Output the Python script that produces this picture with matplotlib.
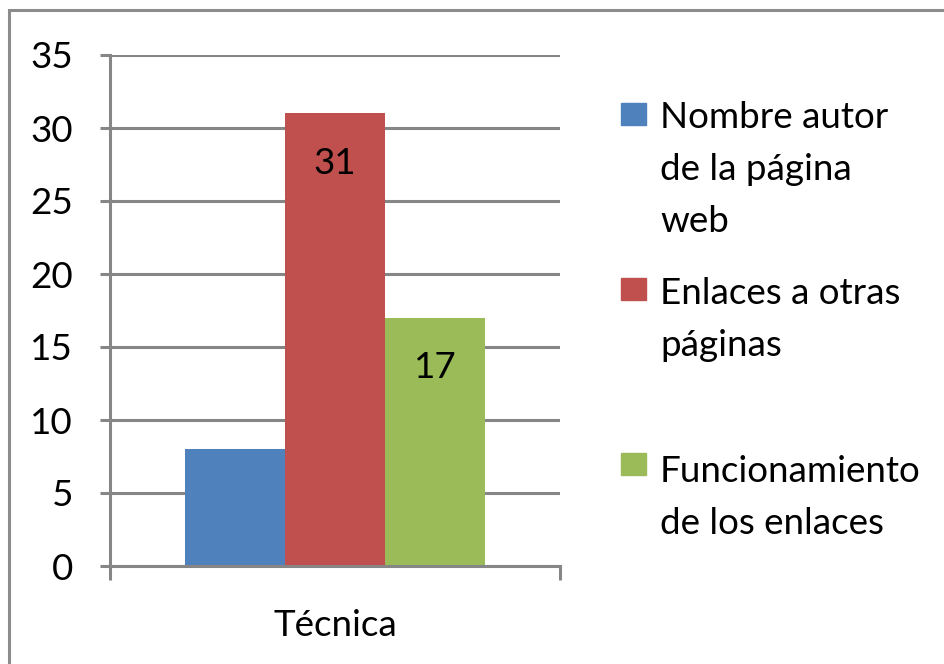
import matplotlib.pyplot as plt
from matplotlib.patches import Rectangle

categorias = ['Técnica']
series = ['Nombre autor\nde la página\nweb', 'Enlaces a otras\npáginas', 'Funcionamiento\nde los enlaces']
valores = [8, 31, 17]
colores = ['#4f81bd', '#c0504d', '#9bbb59']
etiquetas = ['', '31', '17']

W, H = 945, 664
plt.rcParams['font.family'] = ['Lato', 'DejaVu Sans']
gris = '#868686'
fs = 26.5

fig = plt.figure(figsize=(W / 100, H / 100), dpi=100)
# marco del grafico (solo se ven los lados izquierdo y superior)
fig.patches.append(Rectangle((9 / W, -0.1), 1.2, (H - 10) / H + 0.1,
                             transform=fig.transFigure, fill=False,
                             edgecolor='#8c8c8c', linewidth=2.2))

ax = fig.add_axes([110 / W, 1 - 566 / H, 450 / W, 511 / H])
ancho = 1 / 3
for i, (v, c, et) in enumerate(zip(valores, colores, etiquetas)):
    x = (i - 1) * ancho
    ax.bar(x, v, width=ancho, color=c, zorder=3)
    if et:
        ax.annotate(et, (x, v), xytext=(0, -36), textcoords='offset points',
                    ha='center', va='center', fontsize=fs, zorder=4)

ax.set_xlim(-0.75, 0.75)
ax.set_ylim(0, 35)
ax.set_yticks(range(0, 36, 5))
ax.yaxis.grid(True, color=gris, linewidth=2.2, zorder=0)
ax.set_xticks([-0.75, 0.75], minor=True)
ax.set_xticks([0])
ax.set_xticklabels(categorias)
ax.tick_params(axis='x', which='major', length=0, pad=31, labelsize=fs)
ax.tick_params(axis='x', which='minor', length=10, width=2.2, color=gris)
ax.tick_params(axis='y', length=7.5, width=2.2, color=gris, pad=19, labelsize=fs)
for s in ['top', 'right']:
    ax.spines[s].set_visible(False)
for s in ['left', 'bottom']:
    ax.spines[s].set_color(gris)
    ax.spines[s].set_linewidth(2.2)
    ax.spines[s].set_zorder(5)

# leyenda manual
cajas = [103, 278, 453]
bases = [128, 304, 482]
paso = 52
for nombre, c, yc, yb in zip(series, colores, cajas, bases):
    fig.patches.append(Rectangle((621 / W, 1 - (yc + 22) / H), 25 / W, 22 / H,
                                 transform=fig.transFigure, color=c))
    for j, linea in enumerate(nombre.split('\n')):
        fig.text(660 / W, 1 - (yb + j * paso) / H, linea, fontsize=fs,
                 ha='left', va='baseline')

fig.savefig('out.png', dpi=100)
